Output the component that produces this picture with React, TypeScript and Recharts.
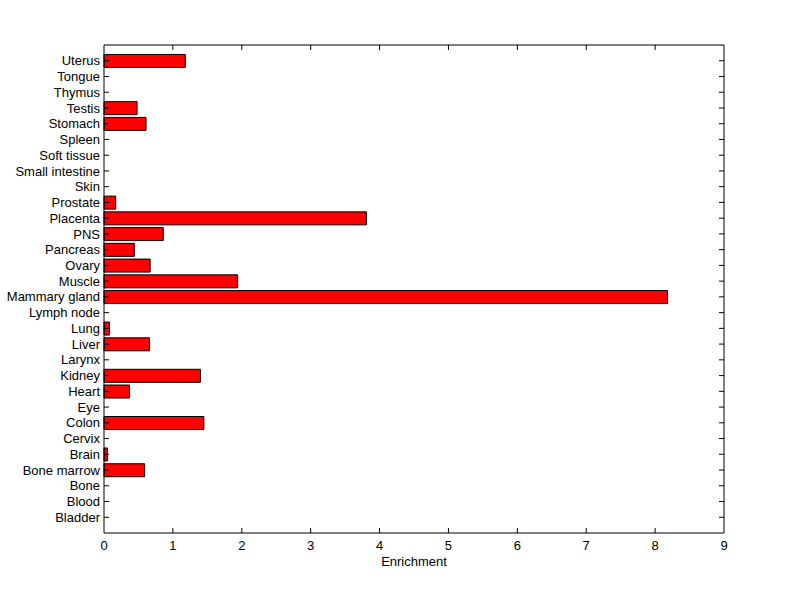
import React from 'react';
import { BarChart, Bar, XAxis, YAxis } from 'recharts';

const tissues = [
  'Bladder', 'Blood', 'Bone', 'Bone marrow', 'Brain', 'Cervix', 'Colon', 'Eye', 'Heart', 'Kidney',
  'Larynx', 'Liver', 'Lung', 'Lymph node', 'Mammary gland', 'Muscle', 'Ovary', 'Pancreas', 'PNS', 'Placenta',
  'Prostate', 'Skin', 'Small intestine', 'Soft tissue', 'Spleen', 'Stomach', 'Testis', 'Thymus', 'Tongue', 'Uterus',
];

const enrichment = [
  0, 0, 0, 0.59, 0.05, 0, 1.45, 0, 0.37, 1.40,
  0, 0.66, 0.08, 0, 8.18, 1.94, 0.67, 0.44, 0.86, 3.81,
  0.17, 0, 0, 0, 0, 0.61, 0.48, 0, 0, 1.18,
];

const xTicks = [0, 1, 2, 3, 4, 5, 6, 7, 8, 9];

const data = tissues.map((name, i) => ({ name, value: enrichment[i] }));

const FONT = '"Liberation Sans", Arial, sans-serif';
const FS = 13;
const TL = 5;

const BottomTick = (props: any) => {
  const { x, y, payload } = props;
  const inner = payload.value !== 0 && payload.value !== 9;
  return (
    <g>
      {inner && <line x1={x} x2={x} y1={y} y2={y - TL} stroke="#000" />}
      <text x={x} y={y + 8} dy="0.71em" textAnchor="middle" fontFamily={FONT} fontSize={FS} fill="#000">
        {payload.value}
      </text>
    </g>
  );
};

const TopTick = (props: any) => {
  const { x, y, payload } = props;
  const inner = payload.value !== 0 && payload.value !== 9;
  return <g>{inner && <line x1={x} x2={x} y1={y} y2={y + TL} stroke="#000" />}</g>;
};

const LeftTick = (props: any) => {
  const { x, y, payload } = props;
  return (
    <g>
      <line x1={x} x2={x + TL} y1={y} y2={y} stroke="#000" />
      <text x={x - 4} y={y} dy="0.355em" textAnchor="end" fontFamily={FONT} fontSize={FS} fill="#000">
        {payload.value}
      </text>
    </g>
  );
};

const RightTick = (props: any) => {
  const { x, y } = props;
  return (
    <g>
      <line x1={x} x2={x - TL} y1={y} y2={y} stroke="#000" />
    </g>
  );
};

export default function App() {
  return (
    <div style={{ position: 'absolute', left: 0, top: 0, width: 800, height: 599, background: '#fff' }}>
      <BarChart
        width={800}
        height={599}
        data={data}
        layout="vertical"
        margin={{ top: 40, right: 66, bottom: 30, left: 4 }}
        barCategoryGap="10%"
      >
        <XAxis
          type="number"
          xAxisId="bottom"
          orientation="bottom"
          domain={[0, 9]}
          ticks={xTicks}
          interval={0}
          height={36}
          tickSize={0}
          tickMargin={0}
          tickLine={false}
          tick={<BottomTick />}
          axisLine={{ stroke: '#000' }}
          label={{
            value: 'Enrichment',
            position: 'insideBottom',
            offset: 3,
            style: { fontFamily: FONT, fontSize: FS, fill: '#000' },
          }}
        />
        <XAxis
          type="number"
          xAxisId="top"
          orientation="top"
          domain={[0, 9]}
          ticks={xTicks}
          interval={0}
          height={5}
          tickSize={0}
          tickMargin={0}
          tickLine={false}
          tick={<TopTick />}
          axisLine={{ stroke: '#000' }}
          allowDataOverflow
        />
        <YAxis
          type="category"
          yAxisId="left"
          dataKey="name"
          reversed
          width={100}
          interval={0}
          tickSize={0}
          tickMargin={0}
          tickLine={false}
          tick={<LeftTick />}
          padding={{ top: 7.87, bottom: 7.87 }}
          axisLine={{ stroke: '#000' }}
        />
        <YAxis
          type="category"
          yAxisId="right"
          orientation="right"
          dataKey="name"
          reversed
          width={10}
          interval={0}
          tickSize={0}
          tickMargin={0}
          tickLine={false}
          tick={<RightTick />}
          padding={{ top: 7.87, bottom: 7.87 }}
          axisLine={{ stroke: '#000' }}
        />
        <Bar
          dataKey="value"
          xAxisId="bottom"
          yAxisId="left"
          fill="#ff0000"
          stroke="#000"
          strokeWidth={1}
          isAnimationActive={false}
        />
      </BarChart>
    </div>
  );
}
